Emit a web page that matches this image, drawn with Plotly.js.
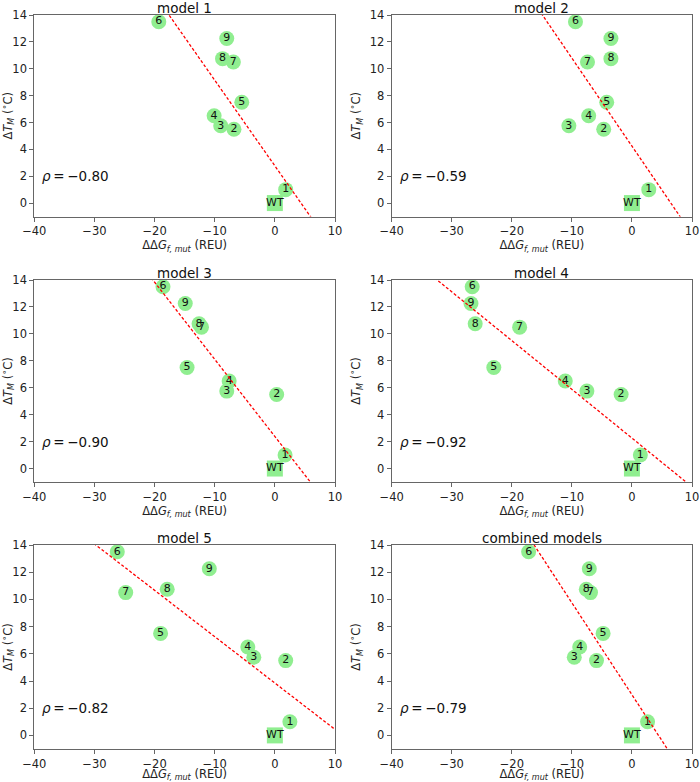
<!DOCTYPE html>
<html>
<head>
<meta charset="utf-8">
<script src="https://cdn.plot.ly/plotly-3.0.1.min.js"></script>
<style>html,body{margin:0;padding:0;background:#fff;}#chart{width:700px;height:782px;}</style>
</head>
<body>
<div id="chart"></div>
<script>
// ---- data ----
const pointLabels = ['1','2','3','4','5','6','7','8','9'];
const dTm = [1.0, 5.5, 5.75, 6.5, 7.5, 13.5, 10.5, 10.75, 12.25];
const wtX = [0];
const wtY = [0];
const panelTitles = ['model 1','model 2','model 3','model 4','model 5','combined models'];
const ddG_model1 = [1.8, -6.8, -9.0, -10.1, -5.5, -19.3, -6.9, -8.7, -8.0];
const ddG_model2 = [2.8, -4.7, -10.5, -7.2, -4.2, -9.4, -7.4, -3.5, -3.5];
const ddG_model3 = [1.7, 0.3, -8.0, -7.6, -14.6, -18.6, -12.2, -12.6, -14.9];
const ddG_model4 = [1.4, -1.8, -7.5, -11.1, -23.0, -26.6, -18.7, -26.1, -26.8];
const ddG_model5 = [2.5, 1.8, -3.5, -4.5, -19.0, -26.2, -24.8, -17.9, -10.9];
const ddG_combined = [2.6, -5.9, -9.6, -8.7, -4.8, -17.2, -6.9, -7.6, -7.1];
const rhoText = ['\u22120.80','\u22120.59','\u22120.90','\u22120.92','\u22120.82','\u22120.79'];
const fitSlope = [-0.638, -0.655, -0.573, -0.362, -0.341, -0.676];
const fitIntercept = [2.77, 4.24, 2.38, 2.26, 3.85, 2.99];
const xTicks = [-40, -30, -20, -10, 0, 10];
const yTicks = [0, 2, 4, 6, 8, 10, 12, 14];

const ddGs = [ddG_model1, ddG_model2, ddG_model3, ddG_model4, ddG_model5, ddG_combined];

// ---- layout geometry ----
const W = 700, H = 782;
const colDom = [[34.3/W, 335/W], [391.7/W, 692/W]];
const rowDom = [[1-216.5/H, 1-15/H], [1-482/H, 1-280/H], [1-749/H, 1-545/H]];
const FONT = 'DejaVu Sans, sans-serif';
const frameColor = '#666666';
const green = '#90ee90';

const traces = [];
const layout = {
  width: W, height: H,
  margin: {l:0, r:0, t:0, b:0},
  paper_bgcolor: '#fff', plot_bgcolor: '#fff',
  showlegend: false,
  font: {family: FONT, color: '#222', size: 12},
  annotations: []
};

ddGs.forEach((xs, i) => {
  const n = i + 1;
  const xa = n === 1 ? 'x' : 'x' + n;
  const ya = n === 1 ? 'y' : 'y' + n;
  const row = Math.floor(i / 2), col = i % 2;

  // markers with labels
  traces.push({
    type: 'scatter', mode: 'markers+text', xaxis: xa, yaxis: ya,
    x: xs, y: dTm, text: pointLabels,
    textposition: 'middle center',
    textfont: {family: FONT, size: 11, color: '#111'},
    marker: {symbol: 'circle', size: 15, color: green, line: {width: 0}},
    cliponaxis: false, hoverinfo: 'skip'
  });
  // WT
  traces.push({
    type: 'scatter', mode: 'markers+text', xaxis: xa, yaxis: ya,
    x: wtX, y: wtY, text: ['WT'],
    textposition: 'middle center',
    textfont: {family: FONT, size: 11, color: '#111'},
    marker: {symbol: 'square', size: 16, color: green, line: {width: 0}},
    cliponaxis: false, hoverinfo: 'skip'
  });
  // fit line
  const lx = [xTicks[0], xTicks[xTicks.length - 1]];
  traces.push({
    type: 'scatter', mode: 'lines', xaxis: xa, yaxis: ya,
    x: lx, y: lx.map(v => fitSlope[i] * v + fitIntercept[i]),
    line: {color: '#ff0000', width: 1.3, dash: '3px,2px'},
    hoverinfo: 'skip'
  });

  const axCommon = {
    showline: true, mirror: true, linecolor: frameColor, linewidth: 1,
    ticks: 'outside', ticklen: 4, tickcolor: frameColor, tickwidth: 1,
    showgrid: false, zeroline: false,
    tickfont: {family: FONT, size: 11.5, color: '#222'}
  };
  layout['xaxis' + (n === 1 ? '' : n)] = Object.assign({}, axCommon, {
    domain: colDom[col], anchor: ya,
    range: [-40, 10], tickvals: xTicks, ticktext: xTicks.map(v => v < 0 ? '\u2212' + Math.abs(v) : String(v)),
    title: {text: '\u0394\u0394<i>G</i><sub><i>f, mut</i></sub> (REU)', font: {family: FONT, size: 11.5, color: '#222'}, standoff: 3}
  });
  layout['yaxis' + (n === 1 ? '' : n)] = Object.assign({}, axCommon, {
    domain: rowDom[row], anchor: xa,
    range: [-1, 14], tickvals: yTicks,
    title: {text: '\u0394<i>T</i><sub><i>M</i></sub> (<sup>\u2218</sup>C)', font: {family: FONT, size: 11.5, color: '#222'}, standoff: 6}
  });

  // panel title
  layout.annotations.push({
    xref: xa + ' domain', yref: ya + ' domain', x: 0.5, y: 1, xanchor: 'center', yanchor: 'bottom',
    yshift: -3, showarrow: false, text: panelTitles[i],
    font: {family: FONT, size: 13.5, color: '#111'}
  });
  // rho
  layout.annotations.push({
    xref: xa, yref: ya, x: -39, y: 2, xanchor: 'left', yanchor: 'middle',
    showarrow: false, text: '<i>\u03c1</i>\u2009=\u2009' + rhoText[i],
    font: {family: FONT, size: 13.5, color: '#111'}
  });
});

Plotly.newPlot('chart', traces, layout, {staticPlot: true, displayModeBar: false});
</script>
</body>
</html>
